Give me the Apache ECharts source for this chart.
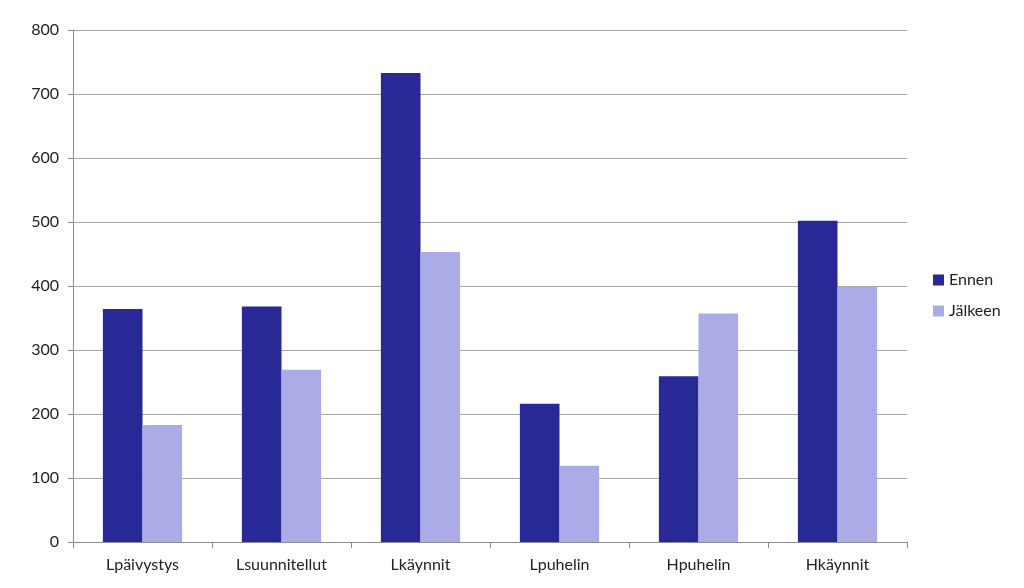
<!DOCTYPE html>
<html><head><meta charset="utf-8">
<script src="https://cdn.jsdelivr.net/npm/echarts@6/dist/echarts.min.js"></script>
<style>html,body{margin:0;padding:0;background:#fff}#c{width:1024px;height:588px}</style>
</head><body><div id="c"></div>
<script>
const categories = ["Lpäivystys","Lsuunnitellut","Lkäynnit","Lpuhelin","Hpuhelin","Hkäynnit"];
const ennen = [364, 368, 733, 216, 259, 502];
const jalkeen = [183, 269, 453, 119, 357, 399];
const seriesNames = ["Ennen","Jälkeen"];
const font = "Lato, 'Open Sans', sans-serif";
const chart = echarts.init(document.getElementById('c'));
chart.setOption({
  animation:false,
  backgroundColor:'#fff',
  textStyle:{fontFamily:font},
  grid:{left:73,right:117,top:30,bottom:46},
  legend:{
    orient:'vertical', left:928, top:267, itemWidth:11, itemHeight:11, itemGap:15,
    icon:'rect',
    textStyle:{fontSize:16,color:'#222',fontFamily:font},
    data:seriesNames
  },
  xAxis:{
    type:'category', data:categories,
    axisLine:{lineStyle:{color:'#8c8c8c',width:1}},
    axisTick:{show:true,length:6,interval:0,lineStyle:{color:'#8c8c8c'}},
    axisLabel:{fontSize:16,color:'#222',margin:15,interval:0,fontFamily:font}
  },
  yAxis:{
    type:'value', min:0, max:800, interval:100,
    axisLine:{show:true,lineStyle:{color:'#8c8c8c'}},
    axisTick:{show:true,length:5,lineStyle:{color:'#8c8c8c'}},
    axisLabel:{fontSize:16,color:'#222',margin:14,fontFamily:font},
    splitLine:{lineStyle:{color:'#a6a6a6',width:1}}
  },
  series:[
    {name:seriesNames[0],type:'bar',data:ennen,barWidth:'28.5%',barGap:'0%',itemStyle:{color:'#282896'}},
    {name:seriesNames[1],type:'bar',data:jalkeen,barWidth:'28.5%',itemStyle:{color:'#ababe8'}}
  ]
});
</script></body></html>
